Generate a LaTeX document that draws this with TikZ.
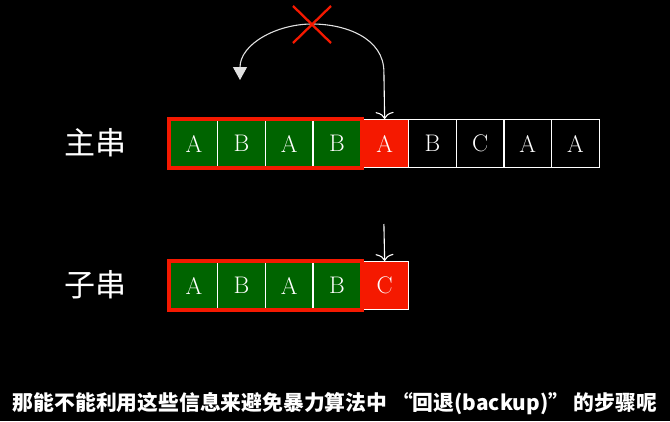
\documentclass[tikz,border=0pt]{standalone}
\usepackage{fontspec}
\newfontfamily\cjk{Noto Sans CJK SC}
\usetikzlibrary{arrows.meta}
\definecolor{myred}{RGB}{245,25,0}
\definecolor{mygreen}{RGB}{0,100,0}
\definecolor{arcgray}{RGB}{225,225,225}
\begin{document}
\begin{tikzpicture}[x=1pt,y=-1pt,
  cell/.style={draw=white,line width=1.4pt,minimum width=47.7pt,minimum height=48pt,inner sep=0pt,anchor=north west,text=white,font=\fontsize{24}{24}\selectfont},
  gcell/.style={cell,fill=mygreen},
  rcell/.style={cell,fill=myred},
  bcell/.style={cell,fill=black},
  matchbox/.style={draw=myred,line width=4pt},
  ptr/.style={draw=white,line width=1.1pt,-{To[length=7pt,width=18pt]}},
  lbl/.style={text=white,font=\cjk\fontsize{31}{31}\selectfont},
  captext/.style={text=white,font=\cjk\bfseries\fontsize{20.8}{20.8}\selectfont}]
\fill[black] (0,0) rectangle (670,421);
\useasboundingbox (0,0) rectangle (670,421);
% main string
\node[gcell] (m1) at (169.3,119) {A};
\node[gcell] (m2) at (217.0,119) {B};
\node[gcell] (m3) at (264.7,119) {A};
\node[gcell] (m4) at (312.4,119) {B};
\node[rcell] (m5) at (360.1,119) {A};
\node[bcell] (m6) at (407.8,119) {B};
\node[bcell] (m7) at (455.5,119) {C};
\node[bcell] (m8) at (503.2,119) {A};
\node[bcell] (m9) at (550.9,119) {A};
\draw[matchbox] (m1.north west) rectangle (m4.south east);
% sub string
\node[gcell] (s1) at (169.3,261) {A};
\node[gcell] (s2) at (217.0,261) {B};
\node[gcell] (s3) at (264.7,261) {A};
\node[gcell] (s4) at (312.4,261) {B};
\node[rcell] (s5) at (360.1,261) {C};
\draw[matchbox] (s1.north west) rectangle (s4.south east);
% labels
\node[lbl] (l1) at (95,143) {主串};
\node[lbl] (l2) at (95,285) {子串};
% pointers
\coordinate (p1) at (383.9,72);
\coordinate (p2) at (383.9,224);
\coordinate (apex) at (312,24);
\coordinate (back) at (240,80);
\draw[ptr] (p1) -- (m5.north);
\draw[ptr] (p2) -- (s5.north);
\draw[arcgray,line width=1.1pt,-{Triangle[length=13pt,width=14pt]}] (p1) to[out=90,in=0] (apex) to[out=180,in=90] (back);
% red cross
\draw[myred,line width=2.3pt] (293,6) -- (331,43) (331,6) -- (293,43);
% caption
\node[captext] (caption) at (335,404) {那能不能利用这些信息来避免暴力算法中 “回退(backup)” 的步骤呢};
\end{tikzpicture}
\end{document}
